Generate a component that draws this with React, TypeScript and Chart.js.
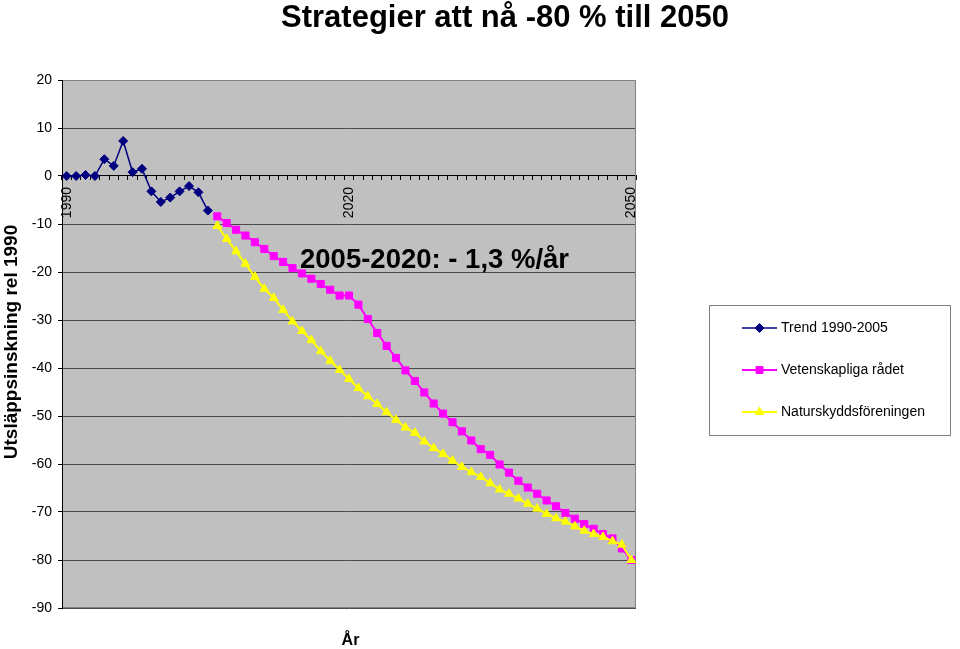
import React, { useEffect, useRef } from 'react';
import { Chart, registerables } from 'chart.js';

Chart.register(...registerables);

const years = [
  '1990', '1991', '1992', '1993', '1994', '1995', '1996', '1997', '1998', '1999',
  '2000', '2001', '2002', '2003', '2004', '2005', '2006', '2007', '2008', '2009',
  '2010', '2011', '2012', '2013', '2014', '2015', '2016', '2017', '2018', '2019',
  '2020', '2021', '2022', '2023', '2024', '2025', '2026', '2027', '2028', '2029',
  '2030', '2031', '2032', '2033', '2034', '2035', '2036', '2037', '2038', '2039',
  '2040', '2041', '2042', '2043', '2044', '2045', '2046', '2047', '2048', '2049',
  '2050',
];
const shownYearLabels = ['1990', '2020', '2050'];

// 1990-2005
const trendValues = [0, 0, 0.2, 0, 3.5, 2.1, 7.3, 0.8, 1.5, -3.2, -5.4, -4.5, -3.2, -2.1, -3.4, -7.2];
// 2006-2050
const vetenskapValues = [
  -8.4, -9.8, -11.2, -12.4, -13.8, -15.2, -16.7, -17.9, -19.2, -20.3,
  -21.4, -22.5, -23.7, -24.9, -24.9, -26.8, -29.8, -32.7, -35.4, -37.9,
  -40.5, -42.7, -45.1, -47.4, -49.5, -51.3, -53.2, -55.1, -56.9, -58.1,
  -60.1, -61.8, -63.5, -64.9, -66.2, -67.6, -68.8, -70.2, -71.4, -72.5,
  -73.5, -74.6, -75.5, -77.6, -80,
];
// 2006-2050
const naturskyddValues = [
  -10.4, -13.1, -15.7, -18.3, -21.0, -23.5, -25.4, -27.9, -30.3, -32.3,
  -34.2, -36.5, -38.5, -40.4, -42.3, -44.2, -45.9, -47.5, -49.2, -50.8,
  -52.4, -53.5, -55.3, -56.7, -57.9, -59.3, -60.6, -61.7, -62.7, -64.0,
  -65.3, -66.2, -67.2, -68.3, -69.3, -70.4, -71.3, -72.0, -73.0, -73.9,
  -74.6, -75.2, -76.1, -76.8, -80,
];

const seriesNames = ['Trend 1990-2005', 'Vetenskapliga rådet', 'Naturskyddsföreningen'];
const seriesColors = ['#000080', '#FF00FF', '#FFFF00'];
const seriesMarkers = ['diamond', 'square', 'triangle'];

const yMin = -90;
const yMax = 20;
const yStep = 10;

const titleText = 'Strategier att nå -80 % till 2050';
const annotationText = '2005-2020: - 1,3 %/år';
const yTitleText = 'Utsläppsinskning rel 1990';
const xTitleText = 'År';

const FONT = '"Liberation Sans", Arial, sans-serif';

function drawMarker(ctx: CanvasRenderingContext2D, kind: string, x: number, y: number, color: string) {
  ctx.save();
  ctx.fillStyle = color;
  ctx.strokeStyle = color;
  ctx.lineWidth = 1;
  ctx.beginPath();
  if (kind === 'diamond') {
    ctx.moveTo(x - 4.5, y);
    ctx.lineTo(x, y - 4.5);
    ctx.lineTo(x + 4.5, y);
    ctx.lineTo(x, y + 4.5);
  } else if (kind === 'square') {
    ctx.rect(x - 3.5, y - 3.5, 7, 7);
  } else {
    ctx.moveTo(x, y - 5);
    ctx.lineTo(x + 4.3, y + 2.5);
    ctx.lineTo(x - 4.3, y + 2.5);
  }
  ctx.closePath();
  ctx.fill();
  ctx.stroke();
  ctx.restore();
}

const decorPlugin = {
  id: 'decor',
  beforeDraw(chart: any) {
    const { ctx, chartArea: a } = chart;
    ctx.save();
    ctx.fillStyle = '#ffffff';
    ctx.fillRect(0, 0, chart.width, chart.height);
    ctx.fillStyle = '#C0C0C0';
    ctx.fillRect(a.left, a.top, a.right - a.left, a.bottom - a.top);
    ctx.restore();
  },
  beforeDatasetsDraw(chart: any) {
    const { ctx, chartArea: a } = chart;
    ctx.save();
    ctx.strokeStyle = '#808080';
    ctx.lineWidth = 1;
    ctx.strokeRect(Math.round(a.left) + 0.5, Math.round(a.top) + 0.5, Math.round(a.right - a.left) - 1, Math.round(a.bottom - a.top) - 1);
    ctx.strokeStyle = '#000000';
    ctx.beginPath();
    ctx.moveTo(Math.round(a.left) + 0.5, a.top);
    ctx.lineTo(Math.round(a.left) + 0.5, a.bottom);
    ctx.stroke();
    ctx.restore();
  },
  afterDraw(chart: any) {
    const { ctx } = chart;
    ctx.save();
    ctx.fillStyle = '#000000';
    // Title
    ctx.font = `bold 31px ${FONT}`;
    ctx.textAlign = 'center';
    ctx.textBaseline = 'alphabetic';
    ctx.fillText(titleText, 505, 27);
    // Annotation
    ctx.font = `bold 27.5px ${FONT}`;
    ctx.textAlign = 'left';
    ctx.fillText(annotationText, 300, 268);
    // X title
    ctx.font = `bold 16px ${FONT}`;
    ctx.textAlign = 'center';
    ctx.fillText(xTitleText, 350.5, 645);
    // Y title
    ctx.save();
    ctx.translate(16.5, 342);
    ctx.rotate(-Math.PI / 2);
    ctx.font = `bold 19px ${FONT}`;
    ctx.textAlign = 'center';
    ctx.fillText(yTitleText, 0, 0);
    ctx.restore();
    // Legend
    ctx.strokeStyle = '#808080';
    ctx.lineWidth = 1;
    ctx.strokeRect(709.5, 305.5, 241, 130);
    const rows = [328, 370, 412];
    seriesNames.forEach((name, i) => {
      const y = rows[i];
      ctx.strokeStyle = seriesColors[i];
      ctx.lineWidth = i === 0 ? 1.5 : 2;
      ctx.beginPath();
      ctx.moveTo(742, y);
      ctx.lineTo(777, y);
      ctx.stroke();
      drawMarker(ctx, seriesMarkers[i], 759.5, y, seriesColors[i]);
      ctx.fillStyle = '#000000';
      ctx.font = `14px ${FONT}`;
      ctx.textAlign = 'left';
      ctx.textBaseline = 'middle';
      ctx.fillText(name, 781, y + 0.5);
    });
    ctx.restore();
  },
};

export default function App() {
  const canvasRef = useRef<HTMLCanvasElement | null>(null);

  useEffect(() => {
    document.body.style.margin = '0';
    document.body.style.overflow = 'hidden';
    const canvas = canvasRef.current;
    if (!canvas) return;

    const n = years.length;
    const trendData = (trendValues as (number | null)[]).concat(Array(n - trendValues.length).fill(null));
    const vetData = (Array(n - vetenskapValues.length).fill(null) as (number | null)[]).concat(vetenskapValues);
    const natData = (Array(n - naturskyddValues.length).fill(null) as (number | null)[]).concat(naturskyddValues);

    const chart = new Chart(canvas, {
      type: 'line',
      data: {
        labels: years,
        datasets: [
          {
            label: seriesNames[0],
            data: trendData,
            order: 2,
            borderColor: seriesColors[0],
            backgroundColor: seriesColors[0],
            borderWidth: 1.5,
            pointStyle: 'rectRot',
            pointRadius: 4.5,
            pointBorderWidth: 1,
            pointBackgroundColor: seriesColors[0],
            pointBorderColor: seriesColors[0],
            tension: 0,
            spanGaps: false,
          },
          {
            label: seriesNames[1],
            data: vetData,
            order: 1,
            borderColor: seriesColors[1],
            backgroundColor: seriesColors[1],
            borderWidth: 2,
            pointStyle: 'rect',
            pointRadius: 5,
            pointBorderWidth: 1,
            pointBackgroundColor: seriesColors[1],
            pointBorderColor: seriesColors[1],
            tension: 0,
            spanGaps: false,
          },
          {
            label: seriesNames[2],
            data: natData,
            order: 0,
            borderColor: seriesColors[2],
            backgroundColor: seriesColors[2],
            borderWidth: 2,
            pointStyle: 'triangle',
            pointRadius: 5,
            pointBorderWidth: 1,
            pointBackgroundColor: seriesColors[2],
            pointBorderColor: seriesColors[2],
            tension: 0,
            spanGaps: false,
          },
        ],
      },
      options: {
        responsive: false,
        animation: false,
        devicePixelRatio: 1,
        layout: { padding: { left: 0, top: 80, right: 324, bottom: 41 } },
        plugins: {
          legend: { display: false },
          title: { display: false },
          tooltip: { enabled: false },
        },
        scales: {
          x: {
            type: 'category',
            offset: true,
            position: { y: 0 } as any,
            grid: {
              drawOnChartArea: false,
              drawTicks: true,
              tickLength: 4,
              tickColor: '#000000',
              offset: true,
            },
            border: { display: true, color: '#000000', width: 1 },
            ticks: {
              autoSkip: false,
              maxRotation: 90,
              minRotation: 90,
              padding: 7,
              color: '#000000',
              font: { family: FONT, size: 14 },
              callback: (_v: any, idx: number) => (shownYearLabels.includes(years[idx]) ? years[idx] : ''),
            },
          },
          y: {
            min: yMin,
            max: yMax,
            afterFit: (scale: any) => {
              scale.width = 62;
            },
            grid: {
              color: '#4a4a4a',
              lineWidth: 1,
              tickLength: 4,
              tickColor: '#000000',
            },
            border: { display: true, color: '#000000', width: 1 },
            ticks: {
              stepSize: yStep,
              padding: 6,
              color: '#000000',
              font: { family: FONT, size: 14 },
            },
          },
        },
      },
      plugins: [decorPlugin],
    });

    return () => {
      chart.destroy();
    };
  }, []);

  return (
    <div style={{ width: 960, height: 649, position: 'relative' }}>
      <canvas ref={canvasRef} width={960} height={649} style={{ display: 'block', width: 960, height: 649 }} />
    </div>
  );
}
